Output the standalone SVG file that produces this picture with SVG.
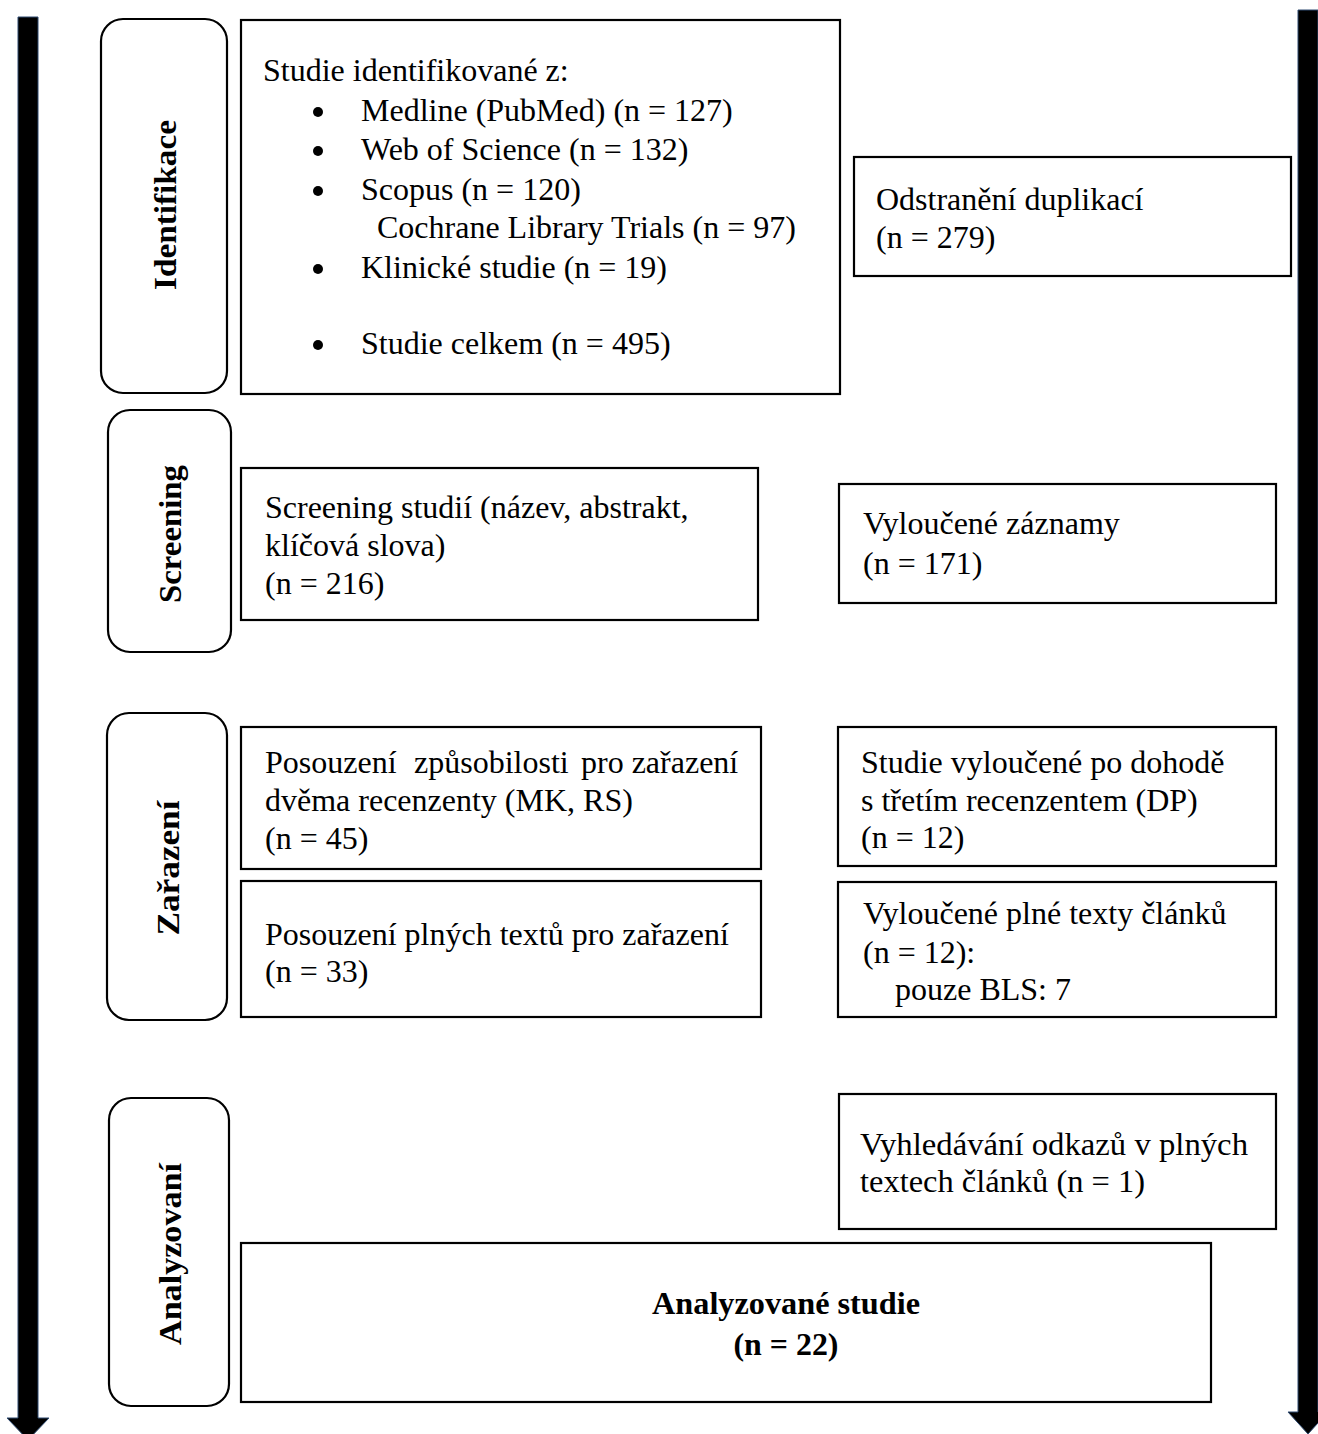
<svg xmlns="http://www.w3.org/2000/svg" width="1318" height="1434" viewBox="0 0 1318 1434">
<style>
.box{fill:#fff;stroke:#000;stroke-width:2.2}
.phase{fill:#fff;stroke:#000;stroke-width:2.2}
.t{font-family:"Liberation Serif","Times New Roman",serif;font-size:32px;fill:#000}
.pl{font-family:"Liberation Serif","Times New Roman",serif;font-size:32px;font-weight:bold;fill:#000;text-anchor:middle;dominant-baseline:central}
.b{font-family:"Liberation Serif","Times New Roman",serif;font-size:31px;font-weight:bold;fill:#000;text-anchor:middle}
.arrow{fill:#000;stroke:#2e4a70;stroke-width:1}
.dot{fill:#000}
</style>
<rect width="1318" height="1434" fill="#fff"/>
<g id="connectors">
<path class="arrow" d="M18,17 H38 V1418 H49 L28,1440 L7,1418 H18 Z"/>
<path class="arrow" d="M1298,10 H1318 V1412 H1328 L1308,1434 L1288,1412 H1298 Z"/>
</g>
<g id="phase-identifikace">
<rect class="phase" x="101" y="19" width="126" height="374" rx="22"/>
<text class="pl" transform="translate(165,205) rotate(-90)" textLength="170" lengthAdjust="spacingAndGlyphs">Identifikace</text>
</g>
<g id="phase-screening">
<rect class="phase" x="108" y="410" width="123" height="242" rx="22"/>
<text class="pl" transform="translate(170,534) rotate(-90)" textLength="138" lengthAdjust="spacingAndGlyphs">Screening</text>
</g>
<g id="phase-zarazeni">
<rect class="phase" x="107" y="713" width="120" height="307" rx="22"/>
<text class="pl" transform="translate(168,868) rotate(-90)" textLength="135" lengthAdjust="spacingAndGlyphs">Zařazení</text>
</g>
<g id="phase-analyzovani">
<rect class="phase" x="109" y="1098" width="120" height="308" rx="22"/>
<text class="pl" transform="translate(170,1254) rotate(-90)" textLength="182" lengthAdjust="spacingAndGlyphs">Analyzovaní</text>
</g>
<g id="identified">
<rect class="box" x="241" y="20" width="599" height="374"/>
<text class="t" x="263" y="81">Studie identifikované z:</text>
<circle class="dot" cx="318" cy="112" r="5"/>
<text class="t" x="361" y="121">Medline (PubMed) (n = 127)</text>
<circle class="dot" cx="318" cy="151" r="5"/>
<text class="t" x="361" y="160">Web of Science (n = 132)</text>
<circle class="dot" cx="318" cy="191" r="5"/>
<text class="t" x="361" y="200">Scopus (n = 120)</text>
<text class="t" x="377" y="238">Cochrane Library Trials (n = 97)</text>
<circle class="dot" cx="318" cy="269" r="5"/>
<text class="t" x="361" y="278">Klinické studie (n = 19)</text>
<circle class="dot" cx="318" cy="345" r="5"/>
<text class="t" x="361" y="354">Studie celkem (n = 495)</text>
</g>
<g id="duplicates">
<rect class="box" x="854" y="157" width="437" height="119"/>
<text class="t" x="876" y="210">Odstranění duplikací</text>
<text class="t" x="876" y="248">(n = 279)</text>
</g>
<g id="screening">
<rect class="box" x="241" y="468" width="517" height="152"/>
<text class="t" x="265" y="518">Screening studií (název, abstrakt,</text>
<text class="t" x="265" y="556">klíčová slova)</text>
<text class="t" x="265" y="594">(n = 216)</text>
</g>
<g id="excluded-records">
<rect class="box" x="839" y="484" width="437" height="119"/>
<text class="t" x="863" y="534">Vyloučené záznamy</text>
<text class="t" x="863" y="574">(n = 171)</text>
</g>
<g id="eligibility">
<rect class="box" x="241" y="727" width="520" height="142"/>
<text class="t" y="773"><tspan x="265">Posouzení</tspan> <tspan x="414">způsobilosti</tspan> <tspan x="581">pro zařazení</tspan></text>
<text class="t" x="265" y="811">dvěma recenzenty (MK, RS)</text>
<text class="t" x="265" y="849">(n = 45)</text>
</g>
<g id="excluded-third">
<rect class="box" x="838" y="727" width="438" height="139"/>
<text class="t" x="861" y="773">Studie vyloučené po dohodě</text>
<text class="t" x="861" y="811">s třetím recenzentem (DP)</text>
<text class="t" x="861" y="848">(n = 12)</text>
</g>
<g id="fulltext">
<rect class="box" x="241" y="881" width="520" height="136"/>
<text class="t" x="265" y="945">Posouzení plných textů pro zařazení</text>
<text class="t" x="265" y="982">(n = 33)</text>
</g>
<g id="excluded-fulltext">
<rect class="box" x="838" y="882" width="438" height="135"/>
<text class="t" x="863" y="924">Vyloučené plné texty článků</text>
<text class="t" x="863" y="963">(n = 12):</text>
<text class="t" x="895" y="1000">pouze BLS: 7</text>
</g>
<g id="references">
<rect class="box" x="839" y="1094" width="437" height="135"/>
<text class="t" x="860" y="1155" textLength="388" lengthAdjust="spacingAndGlyphs">Vyhledávání odkazů v plných</text>
<text class="t" x="860" y="1192" textLength="285" lengthAdjust="spacingAndGlyphs">textech článků (n = 1)</text>
</g>
<g id="analyzed">
<rect class="box" x="241" y="1243" width="970" height="159"/>
<text class="b" x="786" y="1314" textLength="268" lengthAdjust="spacingAndGlyphs">Analyzované studie</text>
<text class="b" x="786" y="1355" textLength="105" lengthAdjust="spacingAndGlyphs">(n = 22)</text>
</g>
</svg>
